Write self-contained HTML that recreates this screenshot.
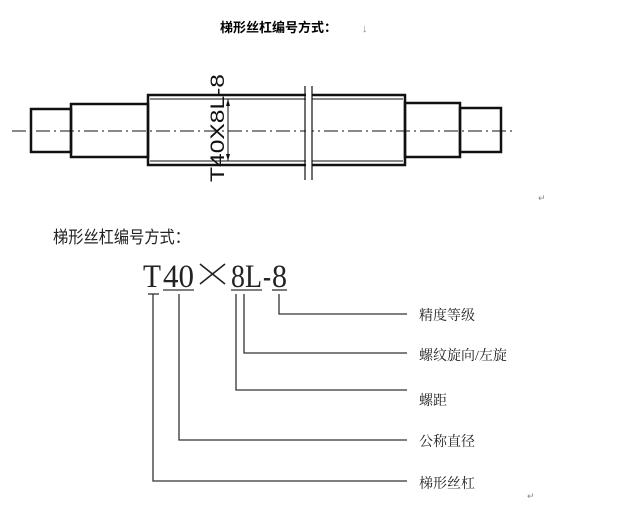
<!DOCTYPE html>
<html><head><meta charset="utf-8"><style>
html,body{margin:0;padding:0;background:#fff;}
svg{display:block}
</style></head><body>
<svg width="638" height="509" viewBox="0 0 638 509" xmlns="http://www.w3.org/2000/svg">
<rect width="638" height="509" fill="#fff"/>
<text x="220" y="32" font-family="'Liberation Sans','Noto Sans CJK SC',sans-serif" font-size="13" font-weight="bold" fill="#000">梯形丝杠编号方式：</text>
<text x="362" y="32" font-family="'Liberation Sans',sans-serif" font-size="11" fill="#888">↓</text>
<g stroke="#111" stroke-width="2.5" fill="none">
<rect x="31" y="109" width="40" height="43"/>
<rect x="71" y="104" width="77" height="53"/>
<rect x="148" y="95" width="257" height="70"/>
<rect x="405" y="103" width="55" height="54"/>
<rect x="460" y="108" width="41" height="44"/>
</g>
<g stroke="#111" stroke-width="1" fill="none">
<line x1="150" y1="99" x2="403" y2="99"/>
<line x1="150" y1="161" x2="403" y2="161"/>
<line x1="228" y1="99" x2="228" y2="161"/>
<line x1="12" y1="131" x2="515" y2="131" stroke-dasharray="14,4,2,4"/>
</g>
<rect x="306" y="84" width="6" height="100" fill="#fff"/>
<g stroke="#111" stroke-width="1.2">
<line x1="305" y1="86" x2="305" y2="180"/>
<line x1="312" y1="86" x2="312" y2="180"/>
</g>
<polygon points="228,99 226,106 230,106" fill="#111"/>
<polygon points="228,161 226,154 230,154" fill="#111"/>
<text transform="translate(224,182) rotate(-90)" font-family="'Liberation Sans',sans-serif" font-size="19" fill="#111" textLength="108" lengthAdjust="spacingAndGlyphs">T40X8L-8</text>
<text x="53" y="243" font-family="'Liberation Sans','Noto Sans CJK SC',sans-serif" font-size="17" fill="#222" textLength="137" lengthAdjust="spacingAndGlyphs">梯形丝杠编号方式：</text>
<g font-family="'Liberation Serif','Noto Serif CJK SC',serif" font-size="33" fill="#222">
<text x="143" y="287" textLength="18" lengthAdjust="spacingAndGlyphs">T</text>
<text x="163" y="287" textLength="31" lengthAdjust="spacingAndGlyphs">40</text>
<text x="231" y="287" textLength="31" lengthAdjust="spacingAndGlyphs">8L</text>
<text x="263" y="287" textLength="8" lengthAdjust="spacingAndGlyphs">-</text>
<text x="272" y="287" textLength="15" lengthAdjust="spacingAndGlyphs">8</text>
</g>
<g stroke="#222" stroke-width="1.6">
<line x1="200" y1="264" x2="225" y2="284"/>
<line x1="225" y1="264" x2="200" y2="284"/>
</g>
<g stroke="#333" stroke-width="1.3" fill="none">
<line x1="163" y1="290" x2="194" y2="290"/>
<line x1="231" y1="290" x2="262" y2="290"/>
<line x1="272" y1="290" x2="287" y2="290"/>
<line x1="148" y1="294" x2="159" y2="294"/>
<polyline points="153,294 153,481 407,481"/>
<polyline points="179,294 179,440 407,440"/>
<polyline points="236,294 236,390 407,390"/>
<polyline points="244,294 244,353 407,353"/>
<polyline points="279,294 279,314 407,314"/>
</g>
<g font-family="'Liberation Serif','Noto Serif CJK SC',serif" font-size="14" fill="#222">
<text x="419" y="320">精度等级</text>
<text x="419" y="360">螺纹旋向/左旋</text>
<text x="419" y="405">螺距</text>
<text x="419" y="446">公称直径</text>
<text x="419" y="488">梯形丝杠</text>
</g>
<text x="538" y="201" font-size="9" fill="#888" font-family="'Liberation Sans',sans-serif">↵</text>
<text x="527" y="499" font-size="9" fill="#888" font-family="'Liberation Sans',sans-serif">↵</text>
</svg>
</body></html>
